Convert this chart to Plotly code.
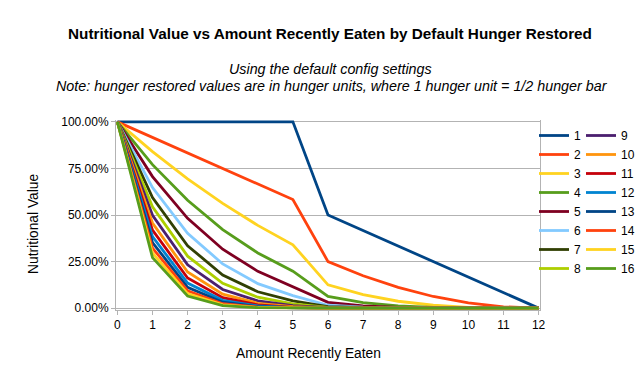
import plotly.graph_objects as go

# Amount recently eaten (x categories)
amount_eaten = [0, 1, 2, 3, 4, 5, 6, 7, 8, 9, 10, 11, 12]

# Nutritional value (fraction) per default hunger restored (series name)
hunger_restored = ["1", "2", "3", "4", "5", "6", "7", "8",
                   "9", "10", "11", "12", "13", "14", "15", "16"]

s1 = [1, 1, 1, 1, 1, 1, 0.5, 0.4167, 0.3333, 0.25, 0.1667, 0.0833, 0]
s2 = [1, 0.9167, 0.8333, 0.75, 0.6667, 0.5833, 0.25, 0.1736, 0.1111, 0.0625, 0.0278, 0.0069, 0]
s3 = [1, 0.8403, 0.6944, 0.5625, 0.4444, 0.3403, 0.125, 0.0723, 0.0370, 0.0156, 0.0046, 0.0006, 0]
s4 = [1, 0.7703, 0.5787, 0.4219, 0.2963, 0.1985, 0.0625, 0.0301, 0.0123, 0.0039, 0.0008, 0.0001, 0]
s5 = [1, 0.7061, 0.4823, 0.3164, 0.1975, 0.1158, 0.0313, 0.0126, 0.0041, 0.0010, 0.0001, 0, 0]
s6 = [1, 0.6472, 0.4019, 0.2373, 0.1317, 0.0675, 0.0156, 0.0052, 0.0014, 0.0002, 0, 0, 0]
s7 = [1, 0.5933, 0.3349, 0.1780, 0.0878, 0.0394, 0.0078, 0.0022, 0.0005, 0.0001, 0, 0, 0]
s8 = [1, 0.5439, 0.2791, 0.1335, 0.0585, 0.0230, 0.0039, 0.0009, 0.0002, 0, 0, 0, 0]
s9 = [1, 0.4985, 0.2326, 0.1001, 0.0390, 0.0134, 0.0020, 0.0004, 0.0001, 0, 0, 0, 0]
s10 = [1, 0.4570, 0.1938, 0.0751, 0.0260, 0.0078, 0.0010, 0.0002, 0, 0, 0, 0, 0]
s11 = [1, 0.4189, 0.1615, 0.0563, 0.0173, 0.0046, 0.0005, 0.0001, 0, 0, 0, 0, 0]
s12 = [1, 0.3840, 0.1346, 0.0422, 0.0116, 0.0027, 0.0002, 0, 0, 0, 0, 0, 0]
s13 = [1, 0.3520, 0.1122, 0.0317, 0.0077, 0.0016, 0.0001, 0, 0, 0, 0, 0, 0]
s14 = [1, 0.3227, 0.0935, 0.0238, 0.0051, 0.0009, 0.0001, 0, 0, 0, 0, 0, 0]
s15 = [1, 0.2958, 0.0779, 0.0178, 0.0034, 0.0005, 0, 0, 0, 0, 0, 0, 0]
s16 = [1, 0.2711, 0.0649, 0.0134, 0.0023, 0.0003, 0, 0, 0, 0, 0, 0, 0]

series_values = [s1, s2, s3, s4, s5, s6, s7, s8, s9, s10, s11, s12, s13, s14, s15, s16]

y_tick_vals = [0, 0.25, 0.5, 0.75, 1.0]
x_tick_vals = amount_eaten

colors = ["#004586", "#ff420e", "#ffd320", "#579d1c", "#7e0021", "#83caff",
          "#314004", "#aecf00", "#4b1f6f", "#ff950e", "#c5000b", "#0084d1",
          "#004586", "#ff420e", "#ffd320", "#579d1c"]

FONT = "Liberation Sans, Arial, sans-serif"

fig = go.Figure()
for i, (name, vals) in enumerate(zip(hunger_restored, series_values)):
    fig.add_trace(go.Scatter(
        x=amount_eaten, y=vals, name=name, mode="lines",
        line=dict(color=colors[i], width=2.8),
        legend="legend" if i < 8 else "legend2",
    ))

L, R, T, B = 108, 112, 112, 72
W, H = 644, 374
pw = W - L - R
ph = H - T - B

def px_x(p):
    return (p - L) / pw

def px_y(p):
    return (H - B - p) / ph

legend_common = dict(
    font=dict(family=FONT, size=12, color="#000000"),
    bgcolor="rgba(0,0,0,0)", borderwidth=0,
    xanchor="left", yanchor="top", y=px_y(113),
    itemclick=False, itemdoubleclick=False,
)

fig.update_layout(
    width=W, height=H,
    margin=dict(l=L, r=R, t=T, b=B, autoexpand=False),
    paper_bgcolor="#ffffff", plot_bgcolor="#ffffff",
    font=dict(family=FONT, size=12, color="#000000"),
    title=dict(
        text="<b>Nutritional Value vs Amount Recently Eaten by Default Hunger Restored</b>",
        font=dict(family=FONT, size=15.3, color="#000000"),
        x=0.5, xanchor="center", xref="container",
        y=1 - 26 / H, yanchor="middle", yref="container",
    ),
    xaxis=dict(
        range=[-0.04, 12.04], tickvals=x_tick_vals,
        showgrid=False, zeroline=False,
        showline=True, linecolor="#b3b3b3", linewidth=1,
        ticks="outside", ticklen=4, tickcolor="#b3b3b3",
        tickfont=dict(family=FONT, size=12, color="#000000"),
        automargin=False,
    ),
    yaxis=dict(
        range=[-0.01, 1.01], tickvals=y_tick_vals, tickformat=".2%",
        showgrid=True, gridcolor="#b3b3b3", gridwidth=1, zeroline=False,
        showline=True, linecolor="#b3b3b3", linewidth=1, mirror=True,
        ticks="outside", ticklen=4, tickcolor="#b3b3b3",
        tickfont=dict(family=FONT, size=12, color="#000000"),
        automargin=False,
    ),
    legend=dict(x=px_x(526), **legend_common),
    legend2=dict(x=px_x(573), **legend_common),
    showlegend=True,
    annotations=[
        dict(text="<i>Using the default config settings</i>",
             x=px_x(322), xref="paper", y=px_y(61), yref="paper",
             xanchor="center", yanchor="middle", showarrow=False,
             font=dict(family=FONT, size=14.3, color="#000000")),
        dict(text="<i>Note: hunger restored values are in hunger units, where 1 hunger unit = 1/2 hunger bar</i>",
             x=px_x(324), xref="paper", y=px_y(78), yref="paper",
             xanchor="center", yanchor="middle", showarrow=False,
             font=dict(family=FONT, size=14.3, color="#000000")),
        dict(text="Amount Recently Eaten",
             x=px_x(300), xref="paper", y=px_y(345), yref="paper",
             xanchor="center", yanchor="middle", showarrow=False,
             font=dict(family=FONT, size=13.8, color="#000000")),
        dict(text="Nutritional Value", textangle=-90,
             x=px_x(25), xref="paper", y=px_y(216), yref="paper",
             xanchor="center", yanchor="middle", showarrow=False,
             font=dict(family=FONT, size=13.8, color="#000000")),
    ],
)

fig.write_html("out.html")
